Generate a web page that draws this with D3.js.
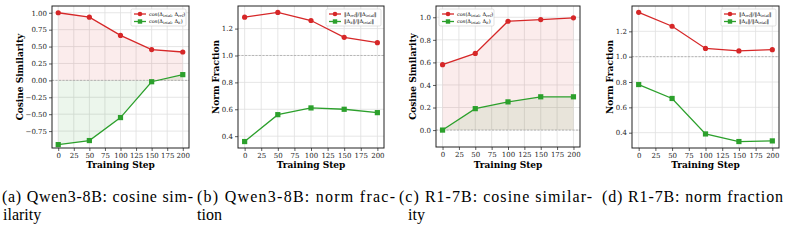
<!DOCTYPE html>
<html>
<head>
<meta charset="utf-8">
<script src="https://cdn.jsdelivr.net/npm/d3@7"></script>
<style>
  body { margin: 0; background: #fff; }
  svg { display: block; }
  .tick text { font-family: "DejaVu Serif", serif; font-size: 7px; fill: #222; }
  .axis-label { font-family: "DejaVu Serif", serif; font-weight: bold; font-size: 9px; }
  .caption { font-family: "Liberation Serif", "DejaVu Serif", serif; font-size: 16px; fill: #000; }
  .legend text { font-family: "DejaVu Serif", serif; font-size: 5px; }
</style>
</head>
<body>
<svg width="791" height="246"></svg>
<script>
const svg = d3.select('svg');

// data
const steps = [0, 50, 100, 150, 200];
const xTicks = [0, 25, 50, 75, 100, 125, 150, 175, 200];

const qwenCosRef  = [1.00, 0.935, 0.665, 0.455, 0.42];
const qwenCosE    = [-0.95, -0.89, -0.55, -0.02, 0.085];
const qwenNormRef = [1.285, 1.32, 1.26, 1.135, 1.095];
const qwenNormE   = [0.36, 0.56, 0.61, 0.60, 0.575];
const r1CosRef    = [0.58, 0.68, 0.965, 0.98, 0.995];
const r1CosE      = [0.0, 0.19, 0.25, 0.295, 0.295];
const r1NormRef   = [1.35, 1.24, 1.065, 1.045, 1.055];
const r1NormE     = [0.78, 0.67, 0.39, 0.33, 0.335];

const cosTicksQwen = [-0.75, -0.5, -0.25, 0, 0.25, 0.5, 0.75, 1.0];
const cosTicksR1   = [0, 0.2, 0.4, 0.6, 0.8, 1.0];
const normTicks    = [0.4, 0.6, 0.8, 1.0, 1.2];

const cosLegend  = [['cos(Δ', 'total', ', Δ', 'ref', ')'], ['cos(Δ', 'total', ', Δ', 'E', ')']];
const normLegend = [['‖Δ', 'ref', '‖/‖Δ', 'total', '‖'], ['‖Δ', 'E', '‖/‖Δ', 'total', '‖']];

const captions = [
  ['(a) Qwen3-8B: cosine sim-', 'ilarity'],
  ['(b) Qwen3-8B: norm frac-', 'tion'],
  ['(c) R1-7B: cosine similar-', 'ity'],
  ['(d) R1-7B: norm fraction']
];

const RED = '#d62728', GREEN = '#2ca02c';

const panels = [
  { box: [52, 189, 6, 148], ylim: [-1.0, 1.1], yTicks: cosTicksQwen, fmt: d3.format('.2f'),
    red: qwenCosRef, green: qwenCosE, fill: true, ref: 0, ylabel: 'Cosine Similarity', yl: 20,
    legend: cosLegend, legendPos: 'right', cap: captions[0], capX: [2, 3], capW: 191 },
  { box: [238, 384, 6, 148], ylim: [0.312, 1.368], yTicks: normTicks, fmt: d3.format('.1f'),
    red: qwenNormRef, green: qwenNormE, fill: false, ref: 1, ylabel: 'Norm Fraction', yl: 216,
    legend: normLegend, legendPos: 'right', cap: captions[1], capX: [197, 197], capW: 198 },
  { box: [436, 580, 6, 147], ylim: [-0.15, 1.1], yTicks: cosTicksR1, fmt: d3.format('.1f'),
    red: r1CosRef, green: r1CosE, fill: true, ref: 0, ylabel: 'Cosine Similarity', yl: 413,
    legend: cosLegend, legendPos: 'left', cap: captions[2], capX: [399, 408], capW: 193 },
  { box: [632, 779, 6, 148], ylim: [0.279, 1.40], yTicks: normTicks, fmt: d3.format('.1f'),
    red: r1NormRef, green: r1NormE, fill: false, ref: 1, ylabel: 'Norm Fraction', yl: 610,
    legend: normLegend, legendPos: 'right', cap: captions[3], capX: [602], capW: 181 }
];

const drawPanel = p => {
  const [x0, x1, y0, y1] = p.box;
  const x = d3.scaleLinear().domain([-10, 210]).range([x0, x1]);
  const y = d3.scaleLinear().domain(p.ylim).range([y1, y0]);
  const g = svg.append('g');

  // grid
  g.selectAll('.vg').data(xTicks).enter().append('line')
    .attr('x1', d => x(d)).attr('x2', d => x(d)).attr('y1', y0).attr('y2', y1)
    .attr('stroke', '#e0e0e0').attr('stroke-width', 0.8);
  g.selectAll('.hg').data(p.yTicks).enter().append('line')
    .attr('x1', x0).attr('x2', x1).attr('y1', d => y(d)).attr('y2', d => y(d))
    .attr('stroke', '#e0e0e0').attr('stroke-width', 0.8);

  // fills
  const pts = arr => steps.map((s, i) => [s, arr[i]]);
  if (p.fill) {
    const area = d3.area().x(d => x(d[0])).y0(y(0)).y1(d => y(d[1]));
    g.append('path').attr('d', area(pts(p.red))).attr('fill', RED).attr('fill-opacity', 0.09);
    g.append('path').attr('d', area(pts(p.green))).attr('fill', GREEN).attr('fill-opacity', 0.09);
  }

  // reference line
  g.append('line').attr('x1', x0).attr('x2', x1).attr('y1', y(p.ref)).attr('y2', y(p.ref))
    .attr('stroke', '#aaa').attr('stroke-width', 0.8).attr('stroke-dasharray', '2,1.5');

  // lines
  const line = d3.line().x(d => x(d[0])).y(d => y(d[1]));
  g.append('path').attr('d', line(pts(p.red))).attr('fill', 'none').attr('stroke', RED).attr('stroke-width', 1.3);
  g.append('path').attr('d', line(pts(p.green))).attr('fill', 'none').attr('stroke', GREEN).attr('stroke-width', 1.3);
  g.selectAll('.rm').data(pts(p.red)).enter().append('circle')
    .attr('cx', d => x(d[0])).attr('cy', d => y(d[1])).attr('r', 2.6).attr('fill', RED);
  g.selectAll('.gm').data(pts(p.green)).enter().append('rect')
    .attr('x', d => x(d[0]) - 2.6).attr('y', d => y(d[1]) - 2.6)
    .attr('width', 5.2).attr('height', 5.2).attr('fill', GREEN);

  // axes
  const xAxis = g.append('g').attr('transform', `translate(0,${y1})`)
    .call(d3.axisBottom(x).tickValues(xTicks).tickSize(3).tickPadding(2));
  const yAxis = g.append('g').attr('transform', `translate(${x0},0)`)
    .call(d3.axisLeft(y).tickValues(p.yTicks).tickFormat(p.fmt).tickSize(3).tickPadding(2));
  [xAxis, yAxis].forEach(a => {
    a.select('.domain').remove();
    a.selectAll('.tick line').attr('stroke', '#333').attr('stroke-width', 0.8);
  });

  // frame
  g.append('rect').attr('x', x0).attr('y', y0).attr('width', x1 - x0).attr('height', y1 - y0)
    .attr('fill', 'none').attr('stroke', '#222').attr('stroke-width', 1);

  // labels
  g.append('text').attr('class', 'axis-label').attr('x', (x0 + x1) / 2).attr('y', 168)
    .attr('text-anchor', 'middle').text('Training Step');
  g.append('text').attr('class', 'axis-label')
    .attr('transform', `translate(${p.yl},${(y0 + y1) / 2}) rotate(-90)`)
    .attr('text-anchor', 'middle').attr('dy', '0.35em').text(p.ylabel);

  // legend
  const lw = 55, lh = 17;
  const lx = p.legendPos === 'right' ? x1 - lw - 3 : x0 + 3;
  const ly = y0 + 3;
  const lg = g.append('g').attr('class', 'legend');
  lg.append('rect').attr('x', lx).attr('y', ly).attr('width', lw).attr('height', lh).attr('rx', 1.5)
    .attr('fill', '#fff').attr('fill-opacity', 0.85).attr('stroke', '#ccc').attr('stroke-width', 0.6);
  [RED, GREEN].forEach((c, i) => {
    const cy = ly + 5 + i * 7.5;
    lg.append('line').attr('x1', lx + 3).attr('x2', lx + 15).attr('y1', cy).attr('y2', cy)
      .attr('stroke', c).attr('stroke-width', 1.3);
    if (i === 0) lg.append('circle').attr('cx', lx + 9).attr('cy', cy).attr('r', 2.3).attr('fill', c);
    else lg.append('rect').attr('x', lx + 6.8).attr('y', cy - 2.2).attr('width', 4.4).attr('height', 4.4).attr('fill', c);
    const t = lg.append('text').attr('x', lx + 18).attr('y', cy).attr('dy', '0.35em');
    p.legend[i].forEach((s, k) => {
      const ts = t.append('tspan').text(s);
      if (k % 2 === 1) ts.attr('font-size', '3.6px').attr('baseline-shift', '-25%');
    });
  });

  // caption, stretched to the reference line widths
  p.cap.forEach((s, i) => {
    const t = svg.append('text').attr('class', 'caption').attr('x', p.capX[i])
      .attr('y', 202 + i * 18).text(s);
    if (i === 0) t.attr('textLength', p.capW).attr('lengthAdjust', 'spacing');
  });
};

panels.forEach(drawPanel);
</script>
</body>
</html>
